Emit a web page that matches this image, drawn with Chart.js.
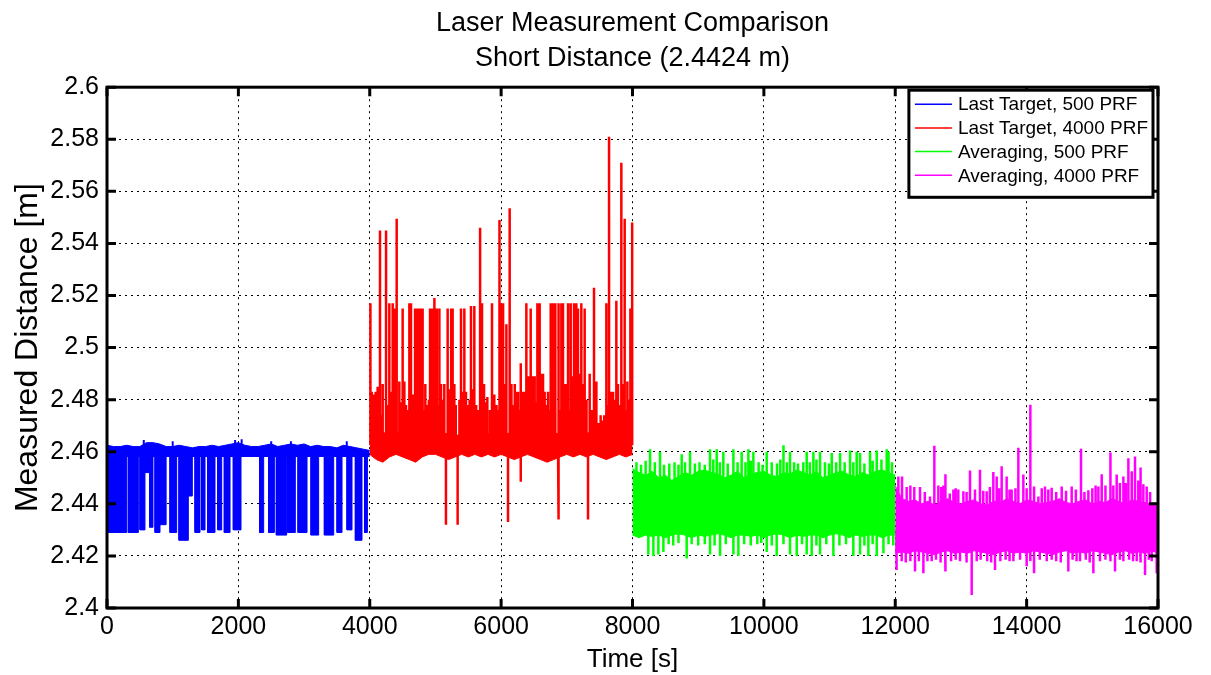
<!DOCTYPE html>
<html>
<head>
<meta charset="utf-8">
<script src="https://cdn.jsdelivr.net/npm/chart.js@4/dist/chart.umd.min.js"></script>
<style>
  html, body { margin: 0; padding: 0; background: #fff; }
  #wrap { width: 1211px; height: 675px; }
</style>
</head>
<body>
<div id="wrap"><canvas id="laserChart" width="1211" height="675"></canvas></div>
<script>
// Series names / colours (legend)
var seriesNames = ['Last Target, 500 PRF', 'Last Target, 4000 PRF', 'Averaging, 500 PRF', 'Averaging, 4000 PRF'];
var seriesColors = ['#0000ff', '#ff0000', '#00ff00', '#ff00ff'];

// Axis ticks
var xTicks = [0, 2000, 4000, 6000, 8000, 10000, 12000, 14000, 16000];
var yTicks = [2.4, 2.42, 2.44, 2.46, 2.48, 2.5, 2.52, 2.54, 2.56, 2.58, 2.6];

// Envelopes are read every 100 s from the start of each run
var envelopeStep = 100;
var runStart = [0, 4000, 8000, 12000];

// Last Target, 500 PRF
var blueTop = [2.4625, 2.462, 2.462, 2.4625, 2.462, 2.462, 2.4635, 2.4635, 2.463, 2.462,
  2.462, 2.4625, 2.462, 2.4615, 2.462, 2.462, 2.4625, 2.462, 2.4625, 2.463,
  2.4635, 2.4625, 2.462, 2.462, 2.4625, 2.463, 2.462, 2.4625, 2.463, 2.4625,
  2.463, 2.462, 2.4625, 2.462, 2.462, 2.4615, 2.4625, 2.462, 2.4615, 2.461, 2.4605];
var blueFloor = 2.458;
var blueDropFrom = [0, 325, 502, 578, 650, 731, 807, 959, 1096, 1238, 1340, 1441, 1533, 1685, 1786, 1923, 2324, 2461, 2578, 2750, 2908, 3106, 3309, 3502, 3654, 3781, 3920];
var blueDropTo = [300, 477, 578, 650, 700, 807, 900, 1061, 1238, 1299, 1416, 1492, 1644, 1746, 1873, 2040, 2385, 2548, 2735, 2867, 3045, 3222, 3451, 3578, 3730, 3882, 3965];
var blueDropLow = [2.429, 2.429, 2.430, 2.452, 2.431, 2.429, 2.432, 2.429, 2.426, 2.443, 2.429, 2.430, 2.429, 2.430, 2.429, 2.430, 2.429, 2.429, 2.428, 2.429, 2.429, 2.428, 2.428, 2.429, 2.430, 2.426, 2.429];
var blueSpikeT = [560, 1000, 1950, 2050, 2500, 2800, 3650];
var blueSpikeV = [2.4645, 2.464, 2.4645, 2.4648, 2.464, 2.464, 2.464];

// Last Target, 4000 PRF
var redTop = [2.470, 2.468, 2.467, 2.468, 2.467, 2.468, 2.467, 2.467, 2.468, 2.467,
  2.468, 2.467, 2.467, 2.466, 2.467, 2.468, 2.467, 2.466, 2.467, 2.468,
  2.467, 2.467, 2.468, 2.467, 2.466, 2.467, 2.467, 2.468, 2.467, 2.467,
  2.468, 2.467, 2.466, 2.467, 2.468, 2.469, 2.468, 2.467, 2.468, 2.467, 2.468];
var redBottom = [2.459, 2.457, 2.456, 2.458, 2.459, 2.458, 2.457, 2.456, 2.458, 2.459,
  2.459, 2.458, 2.457, 2.458, 2.459, 2.458, 2.459, 2.458, 2.459, 2.458,
  2.459, 2.458, 2.457, 2.458, 2.459, 2.458, 2.457, 2.456, 2.457, 2.458,
  2.459, 2.458, 2.459, 2.458, 2.459, 2.458, 2.457, 2.458, 2.459, 2.458, 2.459];
var redSpikeT = [4010, 4030, 4060, 4090, 4120, 4156, 4197, 4248, 4298, 4330, 4349, 4374, 4410, 4450, 4501, 4527, 4552, 4603, 4628, 4653,
  4690, 4720, 4750, 4780, 4805, 4846, 4882, 4918, 4948, 4984, 5020, 5060, 5085, 5135, 5160, 5186, 5215, 5240, 5262, 5288,
  5338, 5365, 5389, 5415, 5440, 5465, 5500, 5541, 5566, 5592, 5620, 5680, 5709, 5740, 5790, 5861, 5896, 5930, 5975, 6000,
  6030, 6054, 6080, 6105, 6130, 6157, 6208, 6233, 6258, 6298, 6300, 6334, 6360, 6384, 6410, 6435, 6450, 6486, 6511, 6552,
  6587, 6612, 6638, 6663, 6714, 6755, 6790, 6825, 6866, 6880, 6917, 6942, 6968, 6993, 7019, 7059, 7079, 7110, 7145, 7170,
  7196, 7221, 7247, 7272, 7323, 7348, 7414, 7450, 7480, 7515, 7551, 7602, 7643, 7678, 7704, 7754, 7779, 7830, 7856, 7881,
  7922, 7968, 7995,
  4070, 4180, 4270, 4390, 4470, 4580, 4670, 4705, 4765, 4825, 4900, 4965, 5040, 5110, 5200, 5310, 5430, 5520, 5650, 5765,
  5830, 5955, 6015, 6180, 6280, 6400, 6470, 6530, 6575, 6690, 6740, 6810, 6900, 7000, 7040, 7130, 7235, 7300, 7380, 7430,
  7570, 7625, 7690, 7730, 7805, 7900, 7945];
var redSpikeV = [2.517, 2.483, 2.482, 2.483, 2.485, 2.545, 2.486, 2.545, 2.517, 2.483, 2.517, 2.515, 2.5495, 2.487, 2.515, 2.487, 2.478, 2.517, 2.517, 2.482,
  2.515, 2.515, 2.515, 2.515, 2.515, 2.486, 2.478, 2.515, 2.515, 2.519, 2.515, 2.515, 2.486, 2.486, 2.432, 2.515, 2.484, 2.515, 2.515, 2.486,
  2.432, 2.480, 2.515, 2.483, 2.515, 2.483, 2.478, 2.516, 2.484, 2.516, 2.478, 2.546, 2.517, 2.486, 2.481, 2.517, 2.482, 2.478, 2.549, 2.517,
  2.517, 2.486, 2.509, 2.433, 2.5535, 2.486, 2.486, 2.483, 2.483, 2.494, 2.4485, 2.483, 2.483, 2.517, 2.489, 2.489, 2.515, 2.489, 2.489, 2.517,
  2.517, 2.490, 2.490, 2.483, 2.483, 2.517, 2.517, 2.517, 2.434, 2.517, 2.517, 2.517, 2.486, 2.486, 2.517, 2.517, 2.489, 2.517, 2.517, 2.515,
  2.490, 2.517, 2.486, 2.515, 2.434, 2.490, 2.523, 2.487, 2.471, 2.474, 2.472, 2.517, 2.581, 2.483, 2.483, 2.518, 2.486, 2.571, 2.486, 2.5495,
  2.487, 2.515, 2.548,
  2.476, 2.474, 2.478, 2.476, 2.479, 2.476, 2.475, 2.480, 2.478, 2.476, 2.480, 2.476, 2.478, 2.480, 2.476, 2.478, 2.476, 2.480, 2.476, 2.479,
  2.476, 2.476, 2.480, 2.478, 2.476, 2.480, 2.476, 2.479, 2.476, 2.478, 2.476, 2.480, 2.476, 2.478, 2.476, 2.478, 2.476, 2.480, 2.476, 2.476,
  2.474, 2.478, 2.476, 2.480, 2.478, 2.476, 2.480];

// Averaging, 500 PRF
var greenTop = [2.4535, 2.452, 2.451, 2.4525, 2.450, 2.451, 2.449, 2.4505, 2.452, 2.451,
  2.4525, 2.453, 2.452, 2.4515, 2.450, 2.451, 2.4525, 2.450, 2.4515, 2.452,
  2.4525, 2.451, 2.4505, 2.452, 2.4515, 2.453, 2.452, 2.451, 2.4525, 2.450,
  2.451, 2.452, 2.4525, 2.451, 2.4505, 2.452, 2.451, 2.4525, 2.453, 2.452, 2.451];
var greenBottom = [2.428, 2.427, 2.428, 2.4275, 2.428, 2.427, 2.428, 2.4285, 2.428, 2.427,
  2.428, 2.4275, 2.428, 2.4285, 2.428, 2.427, 2.428, 2.428, 2.4275, 2.428,
  2.427, 2.428, 2.4285, 2.428, 2.427, 2.428, 2.4275, 2.428, 2.428, 2.427,
  2.428, 2.4285, 2.428, 2.427, 2.428, 2.4275, 2.428, 2.428, 2.427, 2.428, 2.428];
var greenSpikeT = [8060, 8130, 8200, 8267, 8340, 8419, 8480, 8560, 8640, 8700, 8749, 8800, 8876, 8950, 9020, 9100, 9180, 9230, 9282, 9330,
  9383, 9450, 9536, 9600, 9662, 9720, 9764, 9800, 9840, 9920, 9980, 10043, 10120, 10200, 10250, 10297, 10350, 10398, 10460, 10520,
  10600, 10652, 10700, 10754, 10800, 10855, 10930, 10990, 11033, 11100, 11160, 11230, 11312, 11360, 11413, 11464, 11530, 11616, 11660, 11718,
  11790, 11870, 11895, 11950,
  8241, 8318, 8394, 8470, 8550, 8620, 8700, 8825, 8900, 9000, 9100, 9180, 9250, 9333, 9420, 9536, 9612, 9700, 9800, 9900,
  9960, 10043, 10120, 10195, 10300, 10398, 10500, 10580, 10652, 10728, 10800, 10855, 10950, 11058, 11150, 11250, 11363, 11464, 11530, 11591,
  11650, 11718, 11820, 11900, 11970];
var greenSpikeV = [2.456, 2.455, 2.4565, 2.461, 2.456, 2.460, 2.455, 2.4555, 2.456, 2.455, 2.459, 2.456, 2.460, 2.4555, 2.456, 2.455, 2.461, 2.457, 2.461, 2.456,
  2.460, 2.4555, 2.461, 2.456, 2.460, 2.456, 2.461, 2.4565, 2.460, 2.456, 2.455, 2.460, 2.456, 2.4555, 2.457, 2.4625, 2.456, 2.460, 2.456, 2.4555,
  2.456, 2.460, 2.456, 2.460, 2.457, 2.460, 2.456, 2.4555, 2.4595, 2.456, 2.4595, 2.456, 2.4605, 2.456, 2.460, 2.4595, 2.4555, 2.460, 2.4565, 2.4605,
  2.457, 2.461, 2.460, 2.456,
  2.4205, 2.420, 2.4205, 2.4215, 2.4245, 2.424, 2.425, 2.419, 2.4245, 2.424, 2.4245, 2.4205, 2.424, 2.420, 2.4245, 2.4205, 2.420, 2.4245, 2.424, 2.4245,
  2.425, 2.4215, 2.424, 2.420, 2.4245, 2.4205, 2.420, 2.4245, 2.4205, 2.420, 2.424, 2.4205, 2.4245, 2.420, 2.424, 2.4245, 2.420, 2.4205, 2.424, 2.420,
  2.4245, 2.420, 2.421, 2.4245, 2.424];

// Averaging, 4000 PRF
var magentaTop = [2.447, 2.442, 2.441, 2.4415, 2.440, 2.441, 2.4395, 2.441, 2.442, 2.4405,
  2.440, 2.441, 2.4415, 2.440, 2.4395, 2.441, 2.4405, 2.442, 2.441, 2.440,
  2.4415, 2.441, 2.440, 2.4405, 2.441, 2.442, 2.4405, 2.440, 2.441, 2.4415,
  2.440, 2.441, 2.4405, 2.442, 2.441, 2.440, 2.4415, 2.441, 2.4405, 2.440, 2.439];
var magentaBottom = [2.421, 2.4215, 2.421, 2.422, 2.4215, 2.421, 2.4205, 2.4215, 2.422, 2.421,
  2.4215, 2.421, 2.422, 2.4215, 2.421, 2.4205, 2.4215, 2.422, 2.421, 2.4215,
  2.421, 2.422, 2.4215, 2.421, 2.4205, 2.4215, 2.422, 2.421, 2.4215, 2.421,
  2.422, 2.4215, 2.421, 2.4205, 2.4215, 2.422, 2.421, 2.4215, 2.421, 2.422, 2.421];
var magentaSpikeT = [12047, 12103, 12174, 12230, 12290, 12377, 12450, 12529, 12595, 12656, 12700, 12732, 12768, 12830, 12885, 12920, 12960, 13037, 13090, 13138,
  13214, 13290, 13340, 13392, 13440, 13493, 13544, 13580, 13620, 13696, 13740, 13772, 13830, 13874, 13950, 14000, 14052, 14113, 14179, 14230,
  14280, 14330, 14382, 14450, 14534, 14600, 14686, 14750, 14828, 14880, 14940, 15000, 15050, 15092, 15143, 15200, 15270, 15320, 15371, 15420,
  15473, 15510, 15549, 15600, 15650, 15700, 15727, 15777, 15828, 15880, 15955,
  12020, 12098, 12160, 12230, 12301, 12360, 12428, 12490, 12555, 12620, 12690, 12758, 12850, 12920, 12986, 13080, 13164, 13240, 13300, 13400,
  13460, 13519, 13600, 13680, 13740, 13798, 13900, 14001, 14060, 14113, 14200, 14306, 14380, 14450, 14520, 14635, 14700, 14760, 14813, 14900,
  14960, 15016, 15117, 15200, 15280, 15346, 15420, 15473, 15560, 15620, 15676, 15740, 15803, 15860, 15904, 15980];
var magentaSpikeV = [2.4505, 2.4505, 2.4465, 2.447, 2.4465, 2.4465, 2.4445, 2.4428, 2.4623, 2.447, 2.4465, 2.447, 2.4514, 2.444, 2.4455, 2.446, 2.4455, 2.4448, 2.4445, 2.4528,
  2.4455, 2.4531, 2.445, 2.4448, 2.4465, 2.4522, 2.4505, 2.446, 2.4544, 2.4505, 2.4455, 2.4455, 2.446, 2.4615, 2.4513, 2.446, 2.4781, 2.4467, 2.4428, 2.446,
  2.4467, 2.4455, 2.4462, 2.4445, 2.4467, 2.445, 2.4467, 2.4455, 2.4612, 2.4445, 2.4452, 2.446, 2.447, 2.4467, 2.4514, 2.447, 2.4597, 2.447, 2.4513, 2.448,
  2.4505, 2.448, 2.4575, 2.4525, 2.4582, 2.449, 2.454, 2.4475, 2.4467, 2.4445, 2.4405,
  2.4146, 2.418, 2.4175, 2.418, 2.414, 2.418, 2.4133, 2.418, 2.418, 2.4185, 2.4175, 2.414, 2.418, 2.4185, 2.418, 2.4175, 2.405, 2.418, 2.4185, 2.418,
  2.4175, 2.4146, 2.418, 2.4185, 2.418, 2.418, 2.4185, 2.416, 2.418, 2.4133, 2.4185, 2.418, 2.4185, 2.418, 2.4175, 2.414, 2.4185, 2.418, 2.418, 2.4185,
  2.4175, 2.4133, 2.418, 2.4185, 2.418, 2.414, 2.4185, 2.418, 2.4185, 2.418, 2.418, 2.4175, 2.4127, 2.4185, 2.418, 2.4133];

var fontFamily = '"Liberation Sans", Arial, Helvetica, sans-serif';

// ---- helpers that turn the arrays into point lists ----
function envelope(start, values) {
  return values.map(function (v, i) { return { x: start + i * envelopeStep, y: v }; });
}

// vertical strokes from the middle of the band out to each spike value
function spikes(times, values, mid) {
  var pairs = times.map(function (t, i) { return [t, values[i]]; });
  pairs.sort(function (a, b) { return a[0] - b[0]; });
  var pts = [];
  pairs.forEach(function (p) {
    pts.push({ x: p[0], y: mid }, { x: p[0], y: p[1] }, { x: p[0], y: mid });
  });
  return pts;
}

// blocks of dense drop-outs
function drops(from, to, low, base) {
  var pts = [];
  for (var i = 0; i < from.length; i++) {
    pts.push({ x: from[i], y: base }, { x: from[i], y: low[i] }, { x: to[i], y: low[i] }, { x: to[i], y: base });
  }
  return pts;
}

function line(data, color, extra) {
  var ds = {
    data: data,
    borderColor: color,
    backgroundColor: color,
    borderWidth: 1,
    pointRadius: 0,
    tension: 0,
    fill: false
  };
  for (var k in extra) ds[k] = extra[k];
  return ds;
}

var datasets = [
  // magenta on top, blue at the bottom
  line(envelope(runStart[3], magentaTop), seriesColors[3], { fill: '+1', order: 0 }),
  line(envelope(runStart[3], magentaBottom), seriesColors[3], { order: 0 }),
  line(spikes(magentaSpikeT, magentaSpikeV, 2.430), seriesColors[3], { borderWidth: 2.5, order: 0 }),

  line(envelope(runStart[2], greenTop), seriesColors[2], { fill: '+1', order: 1 }),
  line(envelope(runStart[2], greenBottom), seriesColors[2], { order: 1 }),
  line(spikes(greenSpikeT, greenSpikeV, 2.440), seriesColors[2], { borderWidth: 2.5, order: 1 }),

  line(envelope(runStart[1], redTop), seriesColors[1], { fill: '+1', order: 2 }),
  line(envelope(runStart[1], redBottom), seriesColors[1], { order: 2 }),
  line(spikes(redSpikeT, redSpikeV, 2.463), seriesColors[1], { borderWidth: 2.5, order: 2 }),

  line(envelope(runStart[0], blueTop), seriesColors[0], { fill: { value: blueFloor }, order: 3 }),
  line(drops(blueDropFrom, blueDropTo, blueDropLow, blueFloor + 0.001), seriesColors[0], { fill: { value: blueFloor + 0.001 }, order: 3 }),
  line(spikes(blueSpikeT, blueSpikeV, 2.460), seriesColors[0], { borderWidth: 2, order: 3 })
];

// MATLAB style frame with inward tick marks
var axesBox = {
  id: 'axesBox',
  afterDatasetsDraw: function (chart) {
    var ctx = chart.ctx, a = chart.chartArea, sx = chart.scales.x, sy = chart.scales.y;
    ctx.save();
    ctx.strokeStyle = '#000';
    ctx.lineWidth = 3;
    ctx.beginPath();
    sx.ticks.forEach(function (t) {
      var px = sx.getPixelForValue(t.value);
      ctx.moveTo(px, a.bottom); ctx.lineTo(px, a.bottom - 9);
      ctx.moveTo(px, a.top); ctx.lineTo(px, a.top + 9);
    });
    sy.ticks.forEach(function (t) {
      var py = sy.getPixelForValue(t.value);
      ctx.moveTo(a.left, py); ctx.lineTo(a.left + 9, py);
      ctx.moveTo(a.right, py); ctx.lineTo(a.right - 9, py);
    });
    ctx.stroke();
    ctx.strokeRect(a.left, a.top, a.right - a.left, a.bottom - a.top);
    ctx.restore();
  }
};

// boxed legend inside the top right corner
var legendBox = {
  id: 'legendBox',
  afterDraw: function (chart) {
    var ctx = chart.ctx, a = chart.chartArea;
    ctx.save();
    ctx.font = '19px ' + fontFamily;
    var textW = 0;
    seriesNames.forEach(function (n) { textW = Math.max(textW, ctx.measureText(n).width); });
    var rowH = 23.7;
    var w = 49 + textW + 5;
    var h = 14 + rowH * (seriesNames.length - 1) + 22;
    var x = a.right - 5 - w, y = a.top + 3;
    ctx.fillStyle = '#fff';
    ctx.fillRect(x, y, w, h);
    ctx.lineWidth = 3;
    ctx.strokeStyle = '#000';
    ctx.strokeRect(x, y, w, h);
    seriesNames.forEach(function (name, i) {
      var cy = y + 14 + i * rowH;
      ctx.strokeStyle = seriesColors[i];
      ctx.lineWidth = 1.5;
      ctx.beginPath();
      ctx.moveTo(x + 6, cy);
      ctx.lineTo(x + 43, cy);
      ctx.stroke();
      ctx.fillStyle = '#000';
      ctx.textBaseline = 'middle';
      ctx.textAlign = 'left';
      ctx.fillText(name, x + 49, cy + 1);
    });
    ctx.restore();
  }
};

Chart.defaults.font.family = fontFamily;
Chart.defaults.color = '#000';

var ctx = document.getElementById('laserChart');
var myChart = new Chart(ctx, {
  type: 'line',
  data: { datasets: datasets },
  options: {
    responsive: false,
    animation: false,
    devicePixelRatio: 1,
    layout: { padding: { left: 0, right: 53, top: 0, bottom: 0 } },
    plugins: {
      legend: { display: false },
      tooltip: { enabled: false },
      title: {
        display: true,
        fullSize: false,
        text: ['Laser Measurement Comparison', 'Short Distance (2.4424 m)'],
        color: '#000',
        font: { size: 27, weight: 'normal', lineHeight: 1.3 },
        padding: { top: 6, bottom: 11 }
      }
    },
    scales: {
      x: {
        type: 'linear',
        min: 0,
        max: 16000,
        afterBuildTicks: function (s) { s.ticks = xTicks.map(function (v) { return { value: v }; }); },
        afterFit: function (s) { s.height = 67; },
        ticks: {
          autoSkip: false,
          maxRotation: 0,
          padding: 4,
          color: '#000',
          font: { size: 25 },
          callback: function (v) { return String(v); }
        },
        grid: { color: '#000', lineWidth: 1, drawTicks: false },
        border: { display: false, dash: [2, 4] },
        title: { display: true, text: 'Time [s]', color: '#000', font: { size: 26 }, padding: 0 }
      },
      y: {
        type: 'linear',
        min: 2.4,
        max: 2.6,
        afterBuildTicks: function (s) { s.ticks = yTicks.map(function (v) { return { value: v }; }); },
        afterFit: function (s) { s.width = 107; },
        ticks: {
          autoSkip: false,
          padding: 8,
          color: '#000',
          font: { size: 25 },
          callback: function (v) { return String(v); }
        },
        grid: { color: '#000', lineWidth: 1, drawTicks: false },
        border: { display: false, dash: [2, 4] },
        title: { display: true, text: 'Measured Distance [m]', color: '#000', font: { size: 32 }, padding: { top: 9, bottom: 0 } }
      }
    }
  },
  plugins: [axesBox, legendBox]
});
</script>
</body>
</html>
